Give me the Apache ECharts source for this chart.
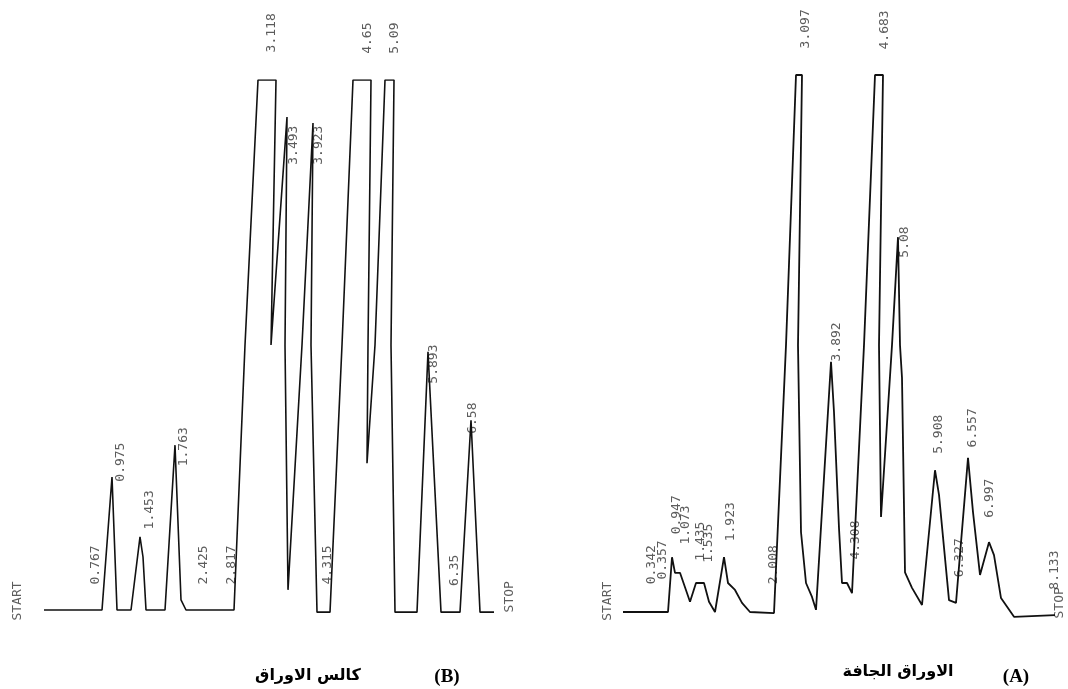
<!DOCTYPE html>
<html>
<head>
<meta charset="utf-8">
<script src="https://cdn.jsdelivr.net/npm/echarts@6/dist/echarts.min.js"></script>
<style>
  html, body { margin: 0; padding: 0; background: #fff; }
  #myChart { width: 1068px; height: 689px; }
</style>
</head>
<body>
<div id="myChart"></div>
<script>
  // trace B (كالس الاوراق) : [chart position, response %]
  const traceB = [
    [1, 0], [15.5, 0], [18, 25.1], [19.25, 0], [22.75, 0],
    [25, 13.8], [25.75, 10], [26.5, 0], [31.25, 0], [33.75, 31.1],
    [35.25, 1.9], [36.5, 0], [48.5, 0], [51.25, 50], [54.5, 100],
    [59, 100], [57.75, 50], [61.75, 93], [61.25, 50], [62, 3.8],
    [65.5, 50], [68.25, 91.9], [67.75, 50], [69.25, -0.4], [72.5, -0.4],
    [75.5, 50], [78.25, 100], [82.75, 100], [82, 50], [81.75, 27.7],
    [83.75, 50], [86.25, 100], [88.5, 100], [87.75, 50], [88.75, -0.4],
    [94.25, -0.4], [97, 48.7], [100.25, -0.4], [105, -0.4], [107.75, 35.8],
    [110, -0.4], [113.5, -0.4]
  ]
  // trace A (الاوراق الجافة)
  const traceA = [
    [5.75, 0], [17, 0], [18, 10.2], [18.75, 7.3], [20, 7.3],
    [22.5, 1.9], [24, 5.4], [26, 5.4], [27.25, 1.9], [28.75, 0],
    [31, 10.2], [32, 5.4], [33.75, 4.1], [35.5, 1.7], [37.5, 0],
    [43.5, -0.2], [46.5, 49.7], [49, 100], [50.5, 100], [49.5, 49.7],
    [50.25, 14.9], [51.5, 5.4], [53, 2.8], [54, 0.4], [57.75, 46.6],
    [58.5, 37.2], [59.75, 15.6], [60.5, 5.4], [61.75, 5.4], [63, 3.5],
    [66, 49.7], [68.75, 100], [70.75, 100], [69.75, 49.7], [70.25, 17.7],
    [73, 49.7], [74.5, 69.8], [75, 49.7], [75.5, 43.6], [76.25, 7.4],
    [78, 4.5], [80.5, 1.3], [83.75, 26.4], [84.75, 21.8], [87.25, 2.2],
    [89, 1.7], [92, 28.7], [93.25, 18.6], [95, 6.9], [97.25, 13],
    [98.5, 10.6], [100.25, 2.6], [103.5, -0.9], [113.75, -0.6]
  ]
  // retention time labels : [x, y, text]
  const labelsB = [
    [-5.5, 1.7, 'START'], [14, 8.5, '0.767'], [20.25, 27.9, '0.975'],
    [27.5, 18.9, '1.453'], [36, 30.8, '1.763'], [41, 8.5, '2.425'],
    [48, 8.5, '2.817'], [58, 108.9, '3.118'], [63.5, 87.7, '3.493'],
    [69.75, 87.7, '3.923'], [72, 8.5, '4.315'], [82, 107.9, '4.65'],
    [88.75, 107.9, '5.09'], [98.5, 46.4, '5.893'], [103.75, 7.5, '6.35'],
    [108.25, 36.2, '6.58'], [117.5, 2.5, 'STOP']
  ]
  const labelsA = [
    [2, 2, 'START'], [13, 8.8, '0.342'], [15.75, 9.7, '0.357'],
    [19.25, 18.1, '0.947'], [21.5, 16.2, '1.073'], [25.25, 13.2, '1.435'],
    [27.25, 12.8, '1.535'], [32.75, 16.8, '1.923'], [43.5, 8.8, '2.008'],
    [51.5, 108.6, '3.097'], [59.25, 50.3, '3.892'], [64, 13.4, '4.308'],
    [71.25, 108.4, '4.683'], [76.25, 68.9, '5.08'], [84.75, 33.1, '5.908'],
    [90, 10.1, '6.327'], [93.25, 34.3, '6.557'], [97.5, 21.2, '6.997'],
    [113.75, 7.8, '8.133'], [115, 1.7, 'STOP']
  ]
  const captionB = ['(B)', 'كالس الاوراق']
  const captionA = ['(A)', 'الاوراق الجافة']

  const hidden = { show: false }
  const labelStyle = {
    show: true,
    position: 'inside',
    rotate: 90,
    fontFamily: 'DejaVu Sans Mono',
    fontSize: 13,
    color: '#333',
    formatter: p => p.value[2]
  }

  let myChart = echarts.init(document.getElementById('myChart'))
  myChart.setOption({
    animation: false,
    backgroundColor: '#fff',
    grid: [
      { left: 40, top: 80, width: 480, height: 583 },
      { left: 600, top: 75, width: 460, height: 590.7 }
    ],
    xAxis: [
      { type: 'value', gridIndex: 0, min: 0, max: 120, axisLine: hidden, axisTick: hidden, axisLabel: hidden, splitLine: hidden },
      { type: 'value', gridIndex: 1, min: 0, max: 115, axisLine: hidden, axisTick: hidden, axisLabel: hidden, splitLine: hidden }
    ],
    yAxis: [
      { type: 'value', gridIndex: 0, min: -10, max: 100, axisLine: hidden, axisTick: hidden, axisLabel: hidden, splitLine: hidden },
      { type: 'value', gridIndex: 1, min: -10, max: 100, axisLine: hidden, axisTick: hidden, axisLabel: hidden, splitLine: hidden }
    ],
    series: [
      {
        type: 'line', xAxisIndex: 0, yAxisIndex: 0, data: traceB,
        symbol: 'none', lineStyle: { color: '#111', width: 1.6 }
      },
      {
        type: 'line', xAxisIndex: 1, yAxisIndex: 1, data: traceA,
        symbol: 'none', lineStyle: { color: '#111', width: 1.8 }
      },
      {
        type: 'scatter', xAxisIndex: 0, yAxisIndex: 0, data: labelsB,
        symbolSize: 0, clip: false, label: labelStyle, silent: true
      },
      {
        type: 'scatter', xAxisIndex: 1, yAxisIndex: 1, data: labelsA,
        symbolSize: 0, clip: false, label: labelStyle, silent: true
      }
    ],
    graphic: [
      { type: 'text', x: 447, y: 677, style: { text: captionB[0], font: 'bold 19px "Liberation Serif"', fill: '#000', textAlign: 'center', textVerticalAlign: 'middle' } },
      { type: 'text', x: 308, y: 676, style: { text: captionB[1], font: 'bold 16px "DejaVu Sans"', fill: '#000', textAlign: 'center', textVerticalAlign: 'middle' } },
      { type: 'text', x: 1016, y: 677, style: { text: captionA[0], font: 'bold 19px "Liberation Serif"', fill: '#000', textAlign: 'center', textVerticalAlign: 'middle' } },
      { type: 'text', x: 898, y: 672, style: { text: captionA[1], font: 'bold 16px "DejaVu Sans"', fill: '#000', textAlign: 'center', textVerticalAlign: 'middle' } }
    ]
  })
</script>
</body>
</html>
